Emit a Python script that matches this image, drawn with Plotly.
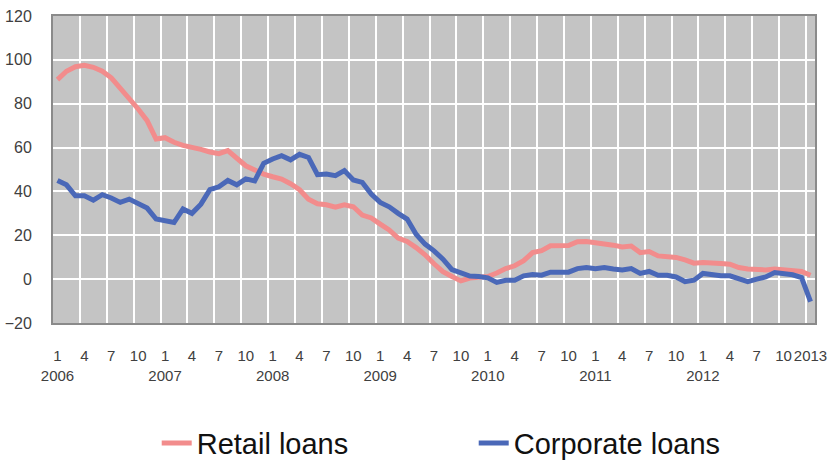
import plotly.graph_objects as go

# monthly observations, Jan 2006 .. Jan 2013
retail_loans = [
    91, 94.8, 96.9, 97.5, 96.6, 94.8, 91.8, 87.2, 82.6, 77.6, 72.3, 63.9,
    64.5, 62.4, 61, 60.3, 59.2, 58, 57.2, 58.6, 54.8, 51.7, 49.8, 47.9,
    46.7, 45.6, 43.5, 40.8, 36.5, 34.4, 33.9, 32.8, 33.9, 33, 29.2, 27.9,
    25.1, 22.4, 18.7, 17.2, 14.4, 11.1, 7, 3.4, 1.2, -0.8, 0.5, 1,
    1.2, 2.8, 4.8, 6.1, 8.4, 12.1, 13, 15.2, 15.2, 15.3, 17.1, 17.2,
    16.6, 16.3, 15.5, 14.7, 15.1, 12.1, 12.6, 10.6, 10.2, 9.9, 8.8, 7.3,
    7.6, 7.1, 7.1, 6.8, 5.3, 4.6, 4.2, 4.2, 4.6, 4.2, 3.8, 3.5,
    1.8,
]
corporate_loans = [
    45, 43, 38, 38, 36, 38.5, 37, 35, 36.5, 34.2, 32.4, 27.4,
    26.6, 25.8, 32, 30, 34.2, 40.8, 42.1, 45, 43, 45.7, 44.8, 52.8,
    54.8, 56.3, 54.4, 56.9, 55.5, 47.6, 47.9, 47.2, 49.5, 45.2, 44.1, 38.8,
    35, 33, 30, 27.4, 20.5, 16, 12.9, 9.1, 4.3, 2.8, 1.4, 1.2,
    0.6, -1.5, -0.5, -0.5, 1.5, 2.1, 1.8, 3.2, 3.2, 3.2, 4.8, 5.3,
    4.8, 5.3, 4.6, 4.2, 4.8, 2.6, 3.5, 1.8, 1.8, 1, -1.1, -0.5,
    2.6, 2, 1.5, 1.5, 0, -1.1, 0, 1, 3, 2.6, 2, 0.7,
    -10.2,
]
years = [2006, 2007, 2008, 2009, 2010, 2011, 2012]
month_labels = ['1', '4', '7', '10']
last_label = '2013'

x = list(range(len(retail_loans)))

# tick labels every 3 months, year under January
tick_vals, tick_text = [], []
for k, yr in enumerate(years):
    for j, m in enumerate(month_labels):
        tick_vals.append(k * 12 + j * 3)
        tick_text.append(f'{m}<br>{yr}' if m == '1' else m)
tick_vals.append(len(x) - 1)
tick_text.append(last_label)

# grid lines sit on category boundaries
grid_vals = [v - 0.5 for v in range(0, len(x), 3)]

PINK = '#F28C8C'
BLUE = '#4A68B8'
TXT = '#404040'
FONT = 'Liberation Sans, Arial, sans-serif'

fig = go.Figure()
fig.add_trace(go.Scatter(x=x, y=retail_loans, name='Retail loans', mode='lines',
                         line=dict(color=PINK, width=5)))
# second series on the labelled axis (same range as the grid axis)
fig.add_trace(go.Scatter(x=x, y=corporate_loans, name='Corporate loans', mode='lines',
                         xaxis='x2', line=dict(color=BLUE, width=5)))

xr = [-0.5, len(x) - 0.5]

fig.update_layout(
    width=834, height=462,
    margin=dict(l=53, r=19, t=16, b=139),
    paper_bgcolor='white',
    plot_bgcolor='#C4C4C4',
    font=dict(family=FONT, color=TXT, size=15),
    showlegend=True,
    legend=dict(orientation='h', xref='container', yref='container',
                x=0.568, xanchor='center', y=0.041, yanchor='middle',
                font=dict(size=29, color='#111111'),
                entrywidth=272, entrywidthmode='pixels'),
    xaxis=dict(range=xr, tickvals=grid_vals, showticklabels=False, ticks='',
               showgrid=True, gridcolor='white', gridwidth=1.5, zeroline=False,
               showline=True, linecolor='#8A8A8A', linewidth=2, mirror=True,
               automargin=False),
    xaxis2=dict(range=xr, overlaying='x', matches='x', side='bottom', anchor='y',
                tickvals=tick_vals, ticktext=tick_text, tickangle=0,
                showgrid=False, zeroline=False, ticks='', automargin=False,
                ticklabelstandoff=22, tickfont=dict(size=15, color=TXT)),
    yaxis=dict(range=[-20, 120], dtick=20, showgrid=True, gridcolor='white', gridwidth=1.5,
               zeroline=False, showline=True, linecolor='#8A8A8A', linewidth=2, mirror=True,
               ticks='', ticklabelstandoff=16, automargin=False,
               tickfont=dict(size=16, color=TXT)),
)

fig.write_html('out.html', config={'displayModeBar': False},
               post_script="document.body.style.margin='0';")
